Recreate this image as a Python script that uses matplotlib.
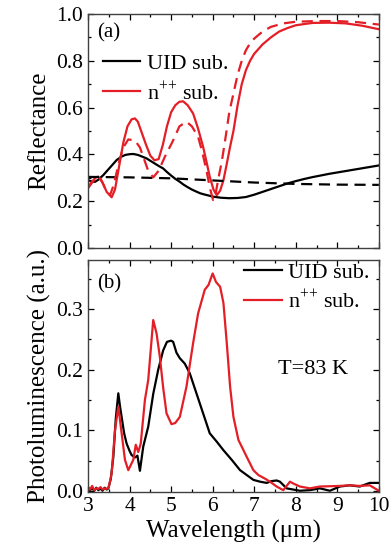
import matplotlib
matplotlib.use("Agg")
import matplotlib.pyplot as plt
from matplotlib.ticker import MultipleLocator

plt.rcParams['font.family'] = ['Liberation Serif', 'DejaVu Serif']
plt.rcParams['mathtext.fontset'] = 'custom'
plt.rcParams['mathtext.rm'] = 'Liberation Serif'

RED = '#e41e26'

# ---- (a) Reflectance ----
uid_solid_wl = [3.0, 3.1, 3.17, 3.25, 3.37, 3.5, 3.6, 3.69, 3.8, 3.9, 4.0, 4.09, 4.2, 4.3, 4.41, 4.5, 4.6, 4.7,
                4.81, 4.9, 5.0, 5.1, 5.21, 5.3, 5.4, 5.5, 5.61, 5.7, 5.8, 5.89, 6.0, 6.2, 6.4, 6.6, 6.8, 7.0,
                7.2, 7.4, 7.6, 7.8, 8.0, 8.2, 8.4, 8.6, 8.8, 9.0, 9.2, 9.4, 9.6, 9.8, 10.0]
uid_solid_r = [0.29, 0.284, 0.283, 0.292, 0.312, 0.338, 0.358, 0.376, 0.39, 0.398, 0.401, 0.402, 0.398, 0.391,
               0.383, 0.373, 0.362, 0.351, 0.34, 0.325, 0.31, 0.296, 0.283, 0.271, 0.26, 0.25, 0.241, 0.234,
               0.229, 0.225, 0.22, 0.215, 0.213, 0.214, 0.218, 0.228, 0.24, 0.252, 0.264, 0.276, 0.286, 0.295,
               0.303, 0.31, 0.317, 0.323, 0.329, 0.335, 0.341, 0.347, 0.353]

uid_dash_wl = [3.0, 4.0, 5.0, 6.0, 7.0, 8.0, 9.0, 10.0]
uid_dash_r = [0.304, 0.302, 0.298, 0.289, 0.28, 0.274, 0.271, 0.27]

npp_solid_wl = [3.0, 3.1, 3.2, 3.25, 3.35, 3.45, 3.57, 3.65, 3.75, 3.85, 3.95, 4.05, 4.13, 4.2, 4.3, 4.4, 4.5,
                4.6, 4.7, 4.8, 4.9, 5.0, 5.1, 5.2, 5.29, 5.4, 5.53, 5.65, 5.77, 5.85, 5.93, 6.02, 6.1, 6.18,
                6.26, 6.34, 6.42, 6.5, 6.6, 6.7, 6.8, 6.9, 7.0, 7.2, 7.4, 7.6, 7.8, 8.0, 8.4, 8.8, 9.2, 9.6, 10.0]
npp_solid_r = [0.26, 0.285, 0.303, 0.305, 0.28, 0.24, 0.217, 0.25, 0.35, 0.45, 0.52, 0.55, 0.554, 0.54, 0.49,
               0.44, 0.395, 0.375, 0.38, 0.44, 0.52, 0.58, 0.61, 0.625, 0.627, 0.61, 0.575, 0.51, 0.433, 0.37,
               0.305, 0.25, 0.226, 0.245, 0.29, 0.36, 0.433, 0.5, 0.61, 0.7, 0.76, 0.8, 0.83, 0.87, 0.9, 0.925,
               0.94, 0.952, 0.962, 0.963, 0.96, 0.95, 0.935]

npp_dash_wl = [3.0, 3.1, 3.2, 3.29, 3.4, 3.53, 3.62, 3.75, 3.85, 3.97, 4.13, 4.25, 4.35, 4.45, 4.57, 4.7, 4.85,
               5.05, 5.2, 5.37, 5.5, 5.65, 5.75, 5.85, 5.93, 6.01, 6.07, 6.13, 6.22, 6.3, 6.4, 6.5, 6.6, 6.7,
               6.8, 6.9, 7.0, 7.2, 7.4, 7.7, 8.0, 8.5, 9.0, 9.5, 10.0]
npp_dash_r = [0.255, 0.28, 0.3, 0.302, 0.26, 0.226, 0.27, 0.37, 0.43, 0.464, 0.46, 0.43, 0.38, 0.33, 0.302, 0.33,
              0.39, 0.46, 0.52, 0.54, 0.52, 0.476, 0.41, 0.333, 0.26, 0.205, 0.23, 0.29, 0.37, 0.46, 0.58, 0.66,
              0.74, 0.8, 0.845, 0.875, 0.895, 0.925, 0.945, 0.96, 0.967, 0.97, 0.97, 0.965, 0.955]

# ---- (b) Photoluminescence ----
uid_pl_wl = [3.0, 3.05, 3.1, 3.15, 3.2, 3.25, 3.3, 3.35, 3.4, 3.45, 3.49, 3.55, 3.61, 3.67, 3.73, 3.77, 3.81,
             3.87, 3.93, 4.0, 4.05, 4.13, 4.19, 4.25, 4.33, 4.45, 4.57, 4.69, 4.81, 4.9, 5.0, 5.05, 5.13, 5.21,
             5.33, 5.45, 5.61, 5.77, 5.93, 6.1, 6.26, 6.46, 6.66, 6.82, 6.98, 7.14, 7.3, 7.42, 7.54, 7.62,
             7.78, 7.94, 8.1, 8.34, 8.58, 8.82, 9.06, 9.3, 9.54, 9.78, 10.0]
uid_pl = [0.006, 0.001, 0.004, 0.0, 0.005, 0.001, 0.004, 0.0, 0.005, 0.002, 0.004, 0.02, 0.056, 0.12, 0.161, 0.14,
          0.122, 0.095, 0.078, 0.066, 0.059, 0.055, 0.058, 0.033, 0.073, 0.106, 0.16, 0.2, 0.232, 0.246, 0.248,
          0.246, 0.228, 0.219, 0.21, 0.194, 0.161, 0.128, 0.095, 0.081, 0.067, 0.051, 0.034, 0.026, 0.018,
          0.015, 0.013, 0.016, 0.017, 0.015, 0.004, 0.002, 0.0, 0.001, 0.004, 0.0, 0.007, 0.009, 0.007, 0.013,
          0.013]

npp_pl_wl = [3.0, 3.05, 3.1, 3.15, 3.2, 3.25, 3.3, 3.35, 3.4, 3.45, 3.5, 3.57, 3.65, 3.73, 3.81, 3.89, 3.97,
             4.09, 4.15, 4.21, 4.27, 4.37, 4.45, 4.57, 4.65, 4.73, 4.81, 4.89, 5.01, 5.1, 5.21, 5.37, 5.53,
             5.65, 5.81, 5.9, 6.0, 6.08, 6.18, 6.26, 6.34, 6.42, 6.5, 6.62, 6.82, 6.98, 7.1, 7.26, 7.38, 7.54,
             7.7, 7.86, 7.94, 8.1, 8.34, 8.58, 9.06, 9.3, 9.54, 9.78, 10.0]
npp_pl = [0.004, 0.002, 0.008, 0.001, 0.004, 0.003, 0.006, 0.002, 0.004, 0.003, 0.006, 0.029, 0.1, 0.139, 0.095,
          0.051, 0.034, 0.051, 0.076, 0.064, 0.078, 0.15, 0.183, 0.282, 0.26, 0.221, 0.17, 0.128, 0.11, 0.112,
          0.122, 0.172, 0.244, 0.293, 0.332, 0.34, 0.359, 0.345, 0.337, 0.31, 0.244, 0.172, 0.122, 0.084,
          0.056, 0.034, 0.026, 0.02, 0.015, 0.007, 0.001, 0.015, 0.012, 0.007, 0.004, 0.007, 0.008, 0.009,
          0.008, 0.009, 0.0]

LABEL_UID = 'UID sub.'
LABEL_NPP = 'n$^{{+}{+}}$ sub.'

fig = plt.figure(figsize=(3.91, 5.5), dpi=100)
ax1 = fig.add_axes([0.225, 0.549, 0.744, 0.4255])
ax2 = fig.add_axes([0.225, 0.1055, 0.744, 0.4215])

lw = 1.6
ax1.plot(uid_solid_wl, uid_solid_r, color='black', lw=lw, label=LABEL_UID)
ax1.plot(npp_solid_wl, npp_solid_r, color=RED, lw=lw, label=LABEL_NPP)
ax1.plot(uid_dash_wl, uid_dash_r, color='black', lw=lw, dashes=(5, 3))
ax1.plot(npp_dash_wl, npp_dash_r, color=RED, lw=lw, dashes=(5, 3))

ax2.plot(uid_pl_wl, uid_pl, color='black', lw=lw, label=LABEL_UID)
ax2.plot(npp_pl_wl, npp_pl, color=RED, lw=lw, label=LABEL_NPP)

for ax in (ax1, ax2):
    ax.set_xlim(3, 10)
    ax.xaxis.set_major_locator(MultipleLocator(1))
    ax.xaxis.set_minor_locator(MultipleLocator(0.5))
    ax.tick_params(which='both', direction='in', top=True, right=True, labelsize=15.5, colors='black')
    ax.tick_params(which='major', length=4.5, width=0.9)
    ax.tick_params(which='minor', length=2.5, width=0.9)
    for s in ax.spines.values():
        s.set_color('#404040')
        s.set_linewidth(1.0)

ax1.set_ylim(0, 1.0)
ax1.yaxis.set_major_locator(MultipleLocator(0.2))
ax1.yaxis.set_minor_locator(MultipleLocator(0.1))
ax1.tick_params(labelbottom=False)
ax1.set_ylabel('Reflectance', fontsize=18, labelpad=4)
ax1.text(3.22, 0.92, '(a)', fontsize=15, va='center')
ax1.legend(loc='upper left', bbox_to_anchor=(0.02, 0.87), frameon=False, fontsize=16,
           handlelength=1.7, handletextpad=0.3, labelspacing=0.35, borderaxespad=0)

ax2.set_ylim(-0.002, 0.381)
ax2.yaxis.set_major_locator(MultipleLocator(0.1))
ax2.yaxis.set_minor_locator(MultipleLocator(0.05))
ax2.set_ylabel('Photoluminescence (a.u.)', fontsize=18, labelpad=4)
ax2.set_xlabel('Wavelength (μm)', fontsize=18, labelpad=3)
ax2.text(3.22, 0.342, '(b)', fontsize=15, va='center')
ax2.text(8.42, 0.2, 'T=83 K', fontsize=16, va='center', ha='center')
ax2.legend(loc='upper right', bbox_to_anchor=(1.0, 1.03), frameon=False, fontsize=16,
           handlelength=1.7, handletextpad=0.3, labelspacing=0.35, borderaxespad=0)

fig.savefig('out.png', dpi=100)
